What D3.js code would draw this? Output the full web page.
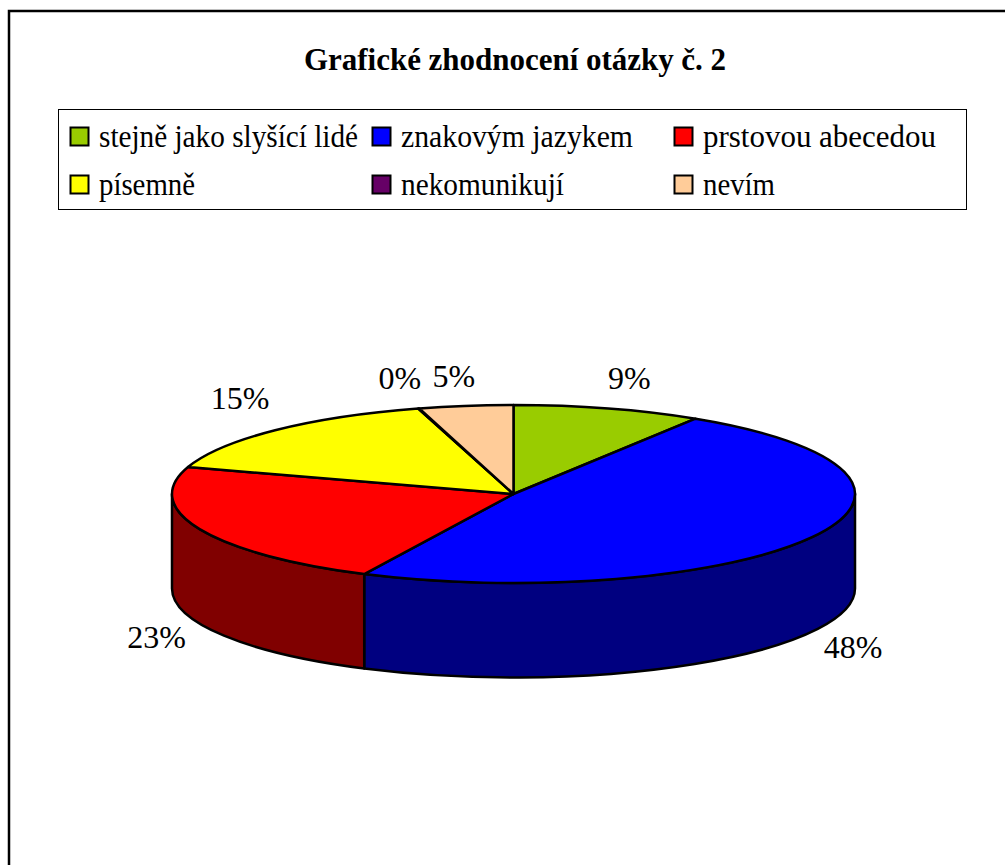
<!DOCTYPE html>
<html>
<head>
<meta charset="utf-8">
<script src="https://cdn.jsdelivr.net/npm/d3@7"></script>
<style>
  html, body { margin: 0; padding: 0; background: #fff; }
  svg { display: block; }
  text { font-family: "Liberation Serif", serif; fill: #000; }
</style>
</head>
<body>
<div id="chart"></div>
<script>
const chartTitle = 'Grafické zhodnocení otázky č. 2';
const categories = ['stejně jako slyšící lidé', 'znakovým jazykem', 'prstovou abecedou', 'písemně', 'nekomunikují', 'nevím'];
const shares = [8.95, 48.25, 22.7, 15.6, 0.05, 4.45];
const percentLabels = ['9%', '48%', '23%', '15%', '0%', '5%'];
const topColors = ['#99cc00', '#0000ff', '#ff0000', '#ffff00', '#660066', '#ffcc99'];
const sideColors = ['#4d6600', '#000080', '#800000', '#808000', '#330033', '#806650'];
// the legend text in the picture is squeezed, so fit each entry to its width
const legendWidths = [259, 232, 233, 96, 163, 72];
// label offset from the rim point at the middle of each slice
const labelOffsets = [[21, -29], [41, 111], [-43, 109], [-35, -31], [-19, -29], [-12, -29]];

const width = 1005, height = 865;
const cx = 513.5, cy = 494, rx = 341.5, ry = 89, depth = 94.5;

const svg = d3.select('#chart').append('svg')
  .attr('width', width)
  .attr('height', height);

// chart frame, runs off the right and bottom of the picture
svg.append('rect')
  .attr('x', 9).attr('y', 11)
  .attr('width', 1100).attr('height', 1000)
  .attr('fill', '#fff')
  .attr('stroke', '#000')
  .attr('stroke-width', 2.5);

svg.append('text')
  .attr('x', 515).attr('y', 70)
  .attr('text-anchor', 'middle')
  .attr('textLength', 422)
  .style('font-size', '31px')
  .style('font-weight', 'bold')
  .text(chartTitle);

// legend
let legend = svg.append('g');
legend.append('rect')
  .attr('x', 58.5).attr('y', 109.5)
  .attr('width', 908).attr('height', 100)
  .attr('fill', '#fff')
  .attr('stroke', '#000')
  .attr('stroke-width', 1);

let colX = d3.scalePoint().domain([0, 1, 2]).range([70, 674]);
let rowY = d3.scalePoint().domain([0, 1]).range([127, 175]);

let item = legend.selectAll('g.item')
  .data(categories)
  .enter().append('g')
  .attr('class', 'item')
  .attr('transform', (d, i) => 'translate(' + colX(i % 3) + ',' + rowY(Math.floor(i / 3)) + ')');

item.append('rect')
  .attr('x', 0.5).attr('y', 0.5)
  .attr('width', 18).attr('height', 18)
  .attr('fill', (d, i) => topColors[i])
  .attr('stroke', '#000')
  .attr('stroke-width', 2);

item.append('text')
  .attr('x', 29).attr('y', 20)
  .attr('textLength', (d, i) => legendWidths[i])
  .attr('lengthAdjust', 'spacingAndGlyphs')
  .style('font-size', '31px')
  .text(d => d);

// pie, flattened by hand as d3.arc only knows circles
let pie = d3.pie().sort(null).value(d => d)(shares);

function rim(a, dy) {
  return [cx + rx * Math.sin(a), cy - ry * Math.cos(a) + (dy || 0)];
}

function topPath(d) {
  let p0 = rim(d.startAngle), p1 = rim(d.endAngle);
  let large = d.endAngle - d.startAngle > Math.PI ? 1 : 0;
  return 'M' + cx + ',' + cy + 'L' + p0 + 'A' + rx + ',' + ry + ' 0 ' + large + ' 1 ' + p1 + 'Z';
}

// only the front half of the rim has a visible wall
function wallPath(d) {
  let a0 = Math.max(d.startAngle, Math.PI / 2);
  let a1 = Math.min(d.endAngle, Math.PI * 1.5);
  if (a0 >= a1) return null;
  return 'M' + rim(a0) + 'A' + rx + ',' + ry + ' 0 0 1 ' + rim(a1)
    + 'L' + rim(a1, depth)
    + 'A' + rx + ',' + ry + ' 0 0 0 ' + rim(a0, depth) + 'Z';
}

svg.append('g').selectAll('path')
  .data(pie)
  .enter().append('path')
  .attr('d', wallPath)
  .attr('fill', d => sideColors[d.index])
  .attr('stroke', '#000')
  .attr('stroke-width', 2.5)
  .attr('stroke-linejoin', 'round');

svg.append('g').selectAll('path')
  .data(pie)
  .enter().append('path')
  .attr('d', topPath)
  .attr('fill', d => topColors[d.index])
  .attr('stroke', '#000')
  .attr('stroke-width', 2.5)
  .attr('stroke-linejoin', 'round');

svg.append('g').selectAll('text')
  .data(pie)
  .enter().append('text')
  .attr('x', d => rim((d.startAngle + d.endAngle) / 2)[0] + labelOffsets[d.index][0])
  .attr('y', d => rim((d.startAngle + d.endAngle) / 2)[1] + labelOffsets[d.index][1] + 10)
  .attr('text-anchor', 'middle')
  .style('font-size', '32px')
  .text(d => percentLabels[d.index]);
</script>
</body>
</html>
